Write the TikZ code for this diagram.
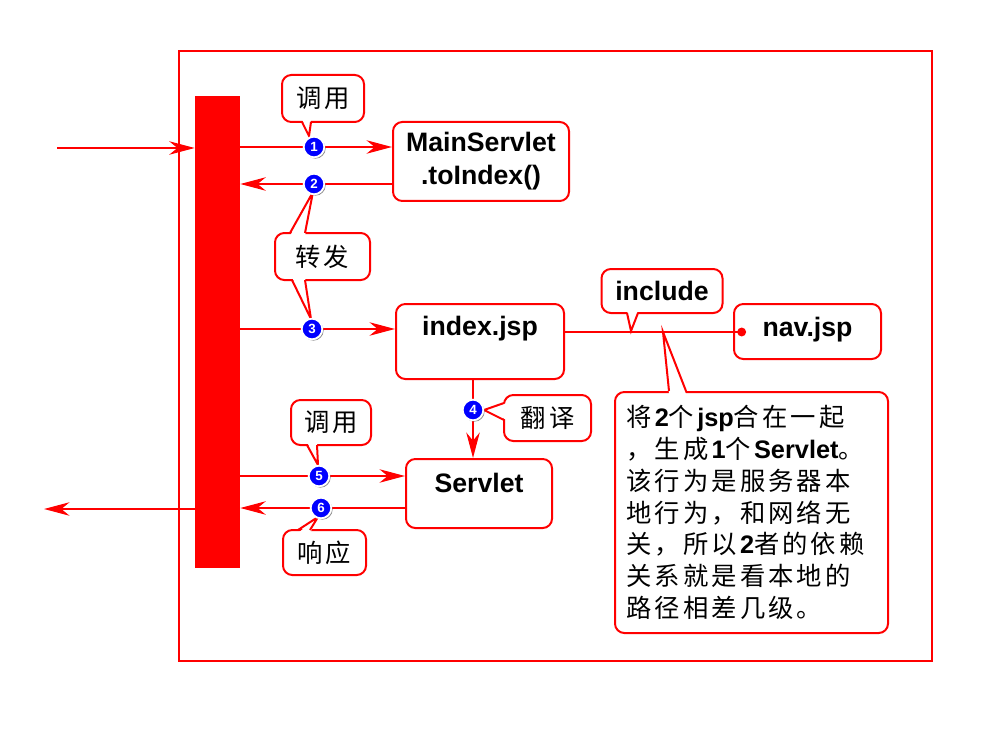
\documentclass[tikz,border=0pt]{standalone}
\usepackage{fontspec}
\setmainfont{Liberation Sans}
\newfontfamily\cjk[LetterSpace=12]{Noto Sans CJK SC}
\usetikzlibrary{arrows.meta,calc,shadows}
\newcommand\calltail[4]{%
  \fill[white] ($#1+#4$) -- #3 -- ($#2+#4$) -- cycle;
  \draw[tailline] #1 -- #3 -- #2;}
\tikzset{
  redline/.style={draw=red, line width=2.1pt},
  arr/.style={redline, -{Stealth[length=19pt,width=10pt,inset=6pt]}},
  box/.style={draw=red, line width=1.5pt, fill=white, rounded corners=7pt, inner sep=0pt,
    font=\fontsize{20pt}{24.75pt}\selectfont\bfseries},
  callout/.style={draw=red, line width=1.5pt, fill=white, rounded corners=7pt, inner sep=0pt,
    font=\fontsize{19pt}{23pt}\selectfont\cjk},
  tailline/.style={red, line width=1.5pt, line join=miter},
  num/.style={circle, fill=blue, draw=white, line width=1.4pt, minimum size=15.5pt, inner sep=0pt,
    text=white, font=\fontsize{10pt}{10pt}\selectfont\bfseries,
    drop shadow={shadow xshift=1pt, shadow yshift=-1pt, opacity=0.45, fill=black}},
}
\begin{document}
\begin{tikzpicture}[x=0.75pt,y=-0.75pt]
\useasboundingbox (0,0) rectangle (996,738);
% frame
\draw[red, line width=2pt] (179,51) rectangle (932,661);
% bar
\node[fill=red, inner sep=0pt, minimum width=33.75pt, minimum height=354pt] (bar) at (217.5,332) {};
% boxes
\node[box, minimum width=132pt, minimum height=59.25pt, align=center] (ms) at (481,161.5) {MainServlet\\.toIndex()};
\node[box, minimum width=126pt, text height=23.25pt, text depth=33pt, anchor=north] (ij) at (480,303) {index.jsp};
\node[box, minimum width=109.5pt, text height=24.75pt, text depth=27pt, anchor=north] (sv) at (479,458) {Servlet};
\node[box, minimum width=110.25pt, text height=24pt, text depth=17.25pt, anchor=north] (nav) at (807.5,303) {nav.jsp};
% coordinates
\coordinate (in) at (57,148);
\coordinate (out) at (44,509);
\coordinate (p1) at (314,147);
\coordinate (p2) at (314,184);
\coordinate (p3) at (312,329);
\coordinate (p4) at (473,410);
\coordinate (p5) at (319,476);
\coordinate (p6) at (321,508);
% arrows
\draw[arr] (in) -- (bar.west |- in);
\draw[arr] (bar.west |- out) -- (out);
\draw[arr] (bar.east |- p1) -- (ms.west |- p1);
\draw[arr] (ms.west |- p2) -- (bar.east |- p2);
\draw[arr] (bar.east |- p3) -- (ij.west |- p3);
\draw[arr] (ij.south -| p4) -- (sv.north -| p4);
\draw[arr] (bar.east |- p5) -- (sv.west |- p5);
\draw[arr] (sv.west |- p6) -- (bar.east |- p6);
% include line
\coordinate (dot) at ($(nav.west |- 0,332)+(13,0)$);
\draw[redline, -{Circle[length=6.5pt]}] ($(ij.east |- 0,332)+(-2,0)$) -- (dot);
% callouts
\node[callout, minimum width=61.5pt, minimum height=35.25pt] (c1) at (323,98.5) {调用};
\calltail{(302,122)}{(311,122)}{(309,136)}{(0,-3)}
\node[callout, minimum width=71.25pt, minimum height=35.25pt] (c2) at (322.5,256.5) {转发};
\calltail{(290,233)}{(305,233)}{(313,192)}{(0,3)}
\calltail{(292,280)}{(305,280)}{(311,319)}{(0,-3)}
\node[callout, minimum width=65.25pt, minimum height=34.5pt] (c3) at (547.5,418) {翻译};
\calltail{(504,403)}{(504,420)}{(484,410)}{(3,0)}
\node[callout, minimum width=60pt, minimum height=33.75pt] (c4) at (331,422.5) {调用};
\calltail{(307,445)}{(317,445)}{(318,465)}{(0,-3)}
\node[callout, minimum width=62.25pt, minimum height=33.75pt] (c5) at (324.5,552.5) {响应};
\calltail{(298,530)}{(310,530)}{(318,517)}{(0,3)}
\node[callout, minimum width=90.75pt, minimum height=33pt, font=\fontsize{20pt}{24pt}\selectfont\bfseries] (incl) at (662,291) {include};
\calltail{(627,313)}{(638,313)}{(631,331)}{(0,-3)}
\node[callout, minimum width=204.75pt, minimum height=180.75pt, text width=187.5pt, align=left,
  font=\fontsize{19pt}{23.8pt}\selectfont, anchor=north west] (big) at (614,391) {%
{\cjk 将}\textbf{2}{\cjk 个}\textbf{jsp}{\cjk 合在一起}\\
{\cjk ，生成}\textbf{1}{\cjk 个}\textbf{Servlet}{\cjk 。}\\
{\cjk 该行为是服务器本}\\
{\cjk 地行为，和网络无}\\
{\cjk 关，所以}\textbf{2}{\cjk 者的依赖}\\
{\cjk 关系就是看本地的}\\
{\cjk 路径相差几级。}};
\calltail{(669,391)}{(686,391)}{(663,332)}{(0,3)}
% numbers
\node[num] (n1) at (p1) {1};
\node[num] (n2) at (p2) {2};
\node[num] (n3) at (p3) {3};
\node[num] (n4) at (p4) {4};
\node[num] (n5) at (p5) {5};
\node[num] (n6) at (p6) {6};
\end{tikzpicture}
\end{document}
